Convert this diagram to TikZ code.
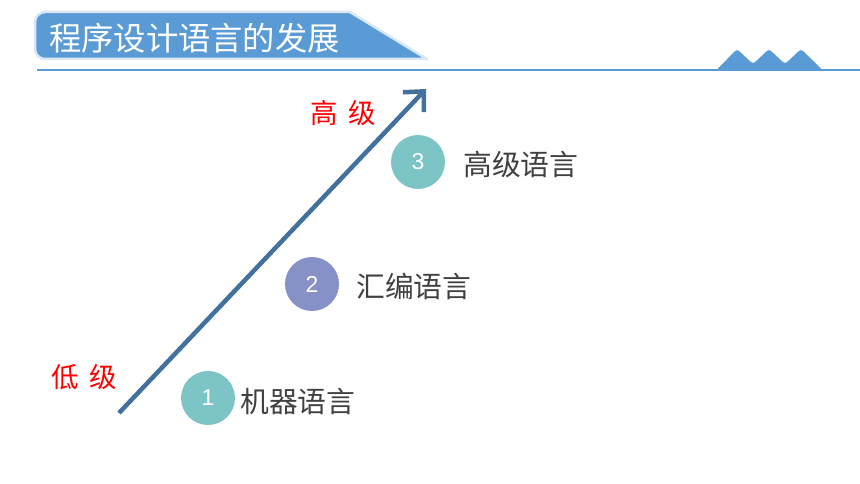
\documentclass[tikz,border=0pt]{standalone}
\usepackage{fontspec}
\newfontfamily\cjk{Noto Sans CJK SC}
\newfontfamily\numfont{Liberation Sans}
\usetikzlibrary{arrows.meta}
\definecolor{titleblue}{RGB}{91,155,213}
\definecolor{glow}{RGB}{218,232,246}
\definecolor{arrowblue}{RGB}{65,113,156}
\definecolor{teal}{RGB}{125,196,198}
\definecolor{lav}{RGB}{133,145,199}
\definecolor{txtgray}{RGB}{64,64,64}
\tikzset{
  numcirc/.style={circle, minimum size=54pt, inner sep=0pt, text=white, font=\numfont\fontsize{23}{23}\selectfont},
  langlabel/.style={anchor=west, inner sep=0pt, text=txtgray, font=\cjk\fontsize{28.8}{30}\selectfont},
  levellabel/.style={inner sep=0pt, text=red, font=\cjk\fontsize{27.5}{30}\selectfont},
}
\begin{document}
\begin{tikzpicture}[x=1pt,y=-1pt]
\useasboundingbox (0,0) rectangle (860,484);
% title box
\path[fill=titleblue, draw=glow, line width=2.5pt, line join=round]
  (350,12) -- (427,59) -- (45,59) arc(90:180:10) -- (35,22) arc(180:270:10) -- cycle;
\node[anchor=west, inner sep=0pt, text=white, font=\cjk\fontsize{32.3}{33}\selectfont] (title) at (49,38) {程序设计语言的发展};
% underline and mountains
\draw[titleblue, line width=2pt] (37,70) -- (860,70);
\fill[titleblue, rounded corners=3pt] (716,70.5) -- (737,49) -- (753,64) -- (769,49) -- (785,64) -- (801,49) -- (823,70.5) -- cycle;
% arrow
\coordinate (lo) at (119,413);
\coordinate (hi) at (426,89);
\draw[arrowblue, line width=4.5pt, -{Straight Barb[length=15pt,width=29pt,line width=4.5pt]}] (lo) -- (hi);
% circles
\node[numcirc, fill=teal] (c3) at (418,162) {3};
\node[numcirc, fill=lav] (c2) at (312,284) {2};
\node[numcirc, fill=teal] (c1) at (208,398) {1};
% labels
\node[langlabel] (l3) at (463,165) {高级语言};
\node[langlabel] (l2) at (356,286) {汇编语言};
\node[langlabel] (l1) at (240,402) {机器语言};
\node[levellabel] (hl) at (343,113) {高\hspace{0.4em}级};
\node[levellabel] (ll) at (84,377) {低\hspace{0.4em}级};
\end{tikzpicture}
\end{document}
